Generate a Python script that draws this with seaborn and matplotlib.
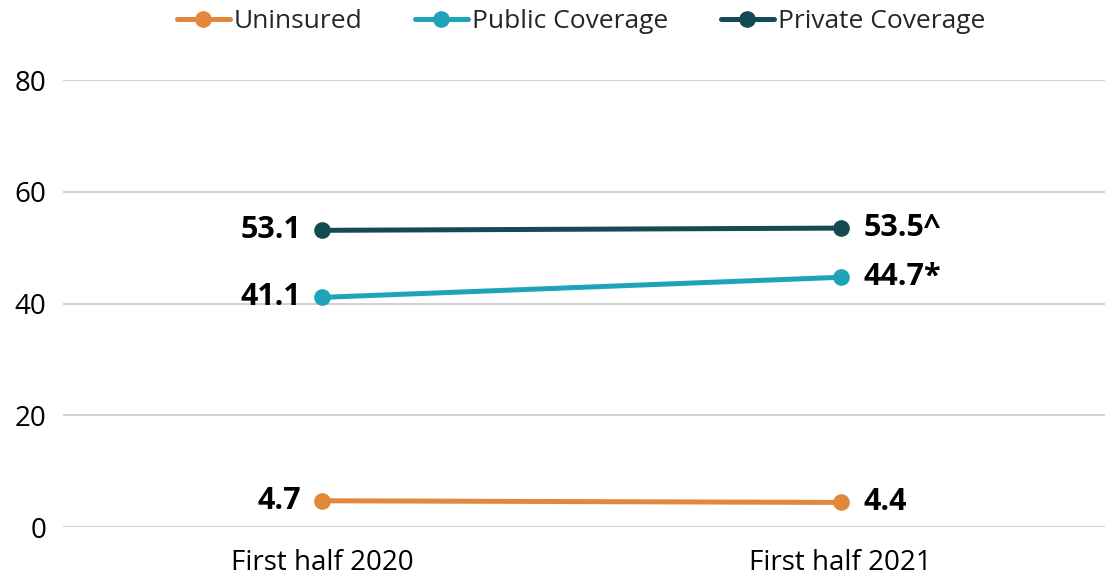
import matplotlib
matplotlib.use("Agg")
import matplotlib.pyplot as plt
import seaborn as sns
import pandas as pd

periods = ["First half 2020", "First half 2021"]
series = ["Uninsured", "Public Coverage", "Private Coverage"]
uninsured = [4.7, 4.4]
public = [41.1, 44.7]
private = [53.1, 53.5]
suffix_2021 = {"Uninsured": "", "Public Coverage": "*", "Private Coverage": "^"}
colors = {"Uninsured": "#E3873A", "Public Coverage": "#1EA4B9", "Private Coverage": "#124B52"}

rows = []
for name, vals in zip(series, [uninsured, public, private]):
    for i, v in enumerate(vals):
        rows.append({"period": i, "label": periods[i], "series": name, "value": v})
df = pd.DataFrame(rows)

sns.set_theme(style="white")
plt.rcParams["font.family"] = ["Open Sans", "DejaVu Sans"]

fig = plt.figure(figsize=(11.2, 5.85), dpi=100)
ax = fig.add_axes([0.05625, 0.0991, 0.9304, 0.7641])

sns.lineplot(data=df, x="period", y="value", hue="series", hue_order=series,
             palette=colors, marker="o", markersize=12, markeredgewidth=0,
             linewidth=3.6, ax=ax)

for name in series:
    sub = df[df["series"] == name]
    v0, v1 = sub["value"].tolist()
    ax.text(0 - 0.04, v0, f"{v0}", ha="right", va="center", fontsize=22,
            fontweight="bold", color="black")
    ax.text(1 + 0.045, v1, f"{v1}{suffix_2021[name]}", ha="left", va="center",
            fontsize=22, fontweight="bold", color="black")

ax.set_xlim(-0.5, 1.51)
ax.set_ylim(0, 80)
ax.set_yticks([0, 20, 40, 60, 80])
ax.set_xticks([0, 1])
ax.set_xticklabels(periods)
ax.yaxis.grid(True, color="#c8c8c8", linewidth=1.2)
ax.set_axisbelow(True)
ax.set_xlabel("")
ax.set_ylabel("")
for s in ax.spines.values():
    s.set_visible(False)
ax.tick_params(axis="both", labelsize=20, length=0, colors="black")
ax.tick_params(axis="y", pad=12)
ax.tick_params(axis="x", pad=16)

ax.legend(loc="center", bbox_to_anchor=(0.497, 1.13), ncol=3, frameon=False,
          fontsize=19, handlelength=2.0, handletextpad=0.15, columnspacing=2.0)

fig.savefig("out.png", dpi=100)
